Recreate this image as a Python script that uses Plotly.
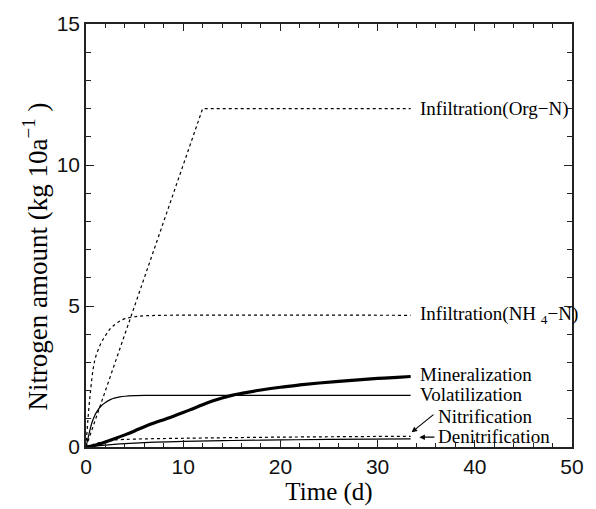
import plotly.graph_objects as go

# ---- data ----
t_org = [0, 12, 33.4]
v_org = [0, 12.0, 12.0]

t_nh4 = [0, 0.25, 0.5, 0.75, 1, 1.5, 2, 2.5, 3, 3.5, 4, 5, 6, 8, 33.4]
v_nh4 = [0, 1.2, 2.1, 2.8, 3.2, 3.65, 3.95, 4.2, 4.35, 4.47, 4.55, 4.62, 4.65, 4.67, 4.67]

t_vol = [0, 0.3, 0.6, 0.9, 1.2, 1.6, 2, 2.5, 3, 3.5, 4, 5, 6, 33.4]
v_vol = [0, 0.45, 0.85, 1.12, 1.3, 1.47, 1.58, 1.68, 1.74, 1.78, 1.8, 1.82, 1.83, 1.83]

t_min = [0, 1, 2, 3, 4, 5, 6, 7, 8, 9, 10, 11, 12, 13, 14, 15, 16, 18, 20, 22, 24, 26, 28, 30, 32, 33.4]
v_min = [0, 0.07, 0.18, 0.3, 0.43, 0.57, 0.72, 0.85, 0.97, 1.09, 1.22, 1.36, 1.5, 1.63, 1.74,
         1.83, 1.9, 2.02, 2.12, 2.2, 2.27, 2.33, 2.38, 2.43, 2.47, 2.5]

t_nit = [0, 0.5, 1, 2, 3, 5, 10, 20, 33.4]
v_nit = [0, 0.06, 0.12, 0.2, 0.25, 0.28, 0.31, 0.35, 0.38]

t_den = [0, 2, 5, 10, 15, 20, 25, 33.4]
v_den = [0, 0.07, 0.14, 0.2, 0.23, 0.25, 0.27, 0.29]

x_ticks = [0, 10, 20, 30, 40, 50]
y_ticks = [0, 5, 10, 15]

SERIF = "Liberation Serif, Times New Roman, serif"
SANS = "Liberation Sans, Arial, sans-serif"

fig = go.Figure()
dot = dict(color="black", width=1.2, dash="3px,3px")
fig.add_trace(go.Scatter(x=t_org, y=v_org, mode="lines", line=dot))
fig.add_trace(go.Scatter(x=t_nh4, y=v_nh4, mode="lines", line=dict(dot, shape="spline")))
fig.add_trace(go.Scatter(x=t_vol, y=v_vol, mode="lines", line=dict(color="black", width=1.2, shape="spline")))
fig.add_trace(go.Scatter(x=t_min, y=v_min, mode="lines", line=dict(color="black", width=3.2, shape="spline")))
fig.add_trace(go.Scatter(x=t_nit, y=v_nit, mode="lines", line=dict(dot, shape="spline")))
fig.add_trace(go.Scatter(x=t_den, y=v_den, mode="lines", line=dict(color="black", width=1.2, shape="spline")))

lab_font = dict(family=SERIF, size=19, color="black")
xl = t_org[-1] + 0.8
labels = [
    (xl, v_org[-1], "Infiltration(Org\u2212N)"),
    (xl, v_nh4[-1], "Infiltration(NH <sub>4</sub>\u2212N)"),
    (xl, v_min[-1] + 0.08, "Mineralization"),
    (xl, v_vol[-1] + 0.03, "Volatilization"),
    (t_nit[-1] + 2.6, 1.08, "Nitrification"),
    (t_den[-1] + 2.6, 0.38, "Denitrification"),
]
for x, y, s in labels:
    fig.add_annotation(x=x, y=y, text=s, showarrow=False, xanchor="left", yanchor="middle",
                       font=lab_font)

# arrows
fig.add_annotation(x=t_nit[-1] + 0.1, y=v_nit[-1] + 0.14, ax=t_nit[-1] + 2.5, ay=1.19,
                   axref="x", ayref="y", text="", showarrow=True, arrowhead=2,
                   arrowsize=1, arrowwidth=1.1, arrowcolor="black")
fig.add_annotation(x=t_den[-1] + 0.9, y=v_den[-1] + 0.06, ax=t_den[-1] + 2.6, ay=v_den[-1] + 0.06,
                   axref="x", ayref="y", text="", showarrow=True, arrowhead=2,
                   arrowsize=1, arrowwidth=1.1, arrowcolor="black")

# y-axis title
fig.add_annotation(xref="paper", yref="paper", x=-0.105, y=0.45, textangle=-90,
                   text="Nitrogen amount (kg 10a<sup>\u22121</sup> )", showarrow=False,
                   xanchor="center", yanchor="middle",
                   font=dict(family=SERIF, size=27, color="black"))

axis_common = dict(
    showgrid=False, zeroline=False, showline=True, linecolor="#222", linewidth=1.5,
    mirror="allticks", ticks="inside", tickcolor="#222", tickwidth=1.2,
    tickfont=dict(family=SANS, size=21, color="#111"),
)
fig.update_xaxes(range=[0, 50], tickvals=x_ticks, ticklen=7,
                 minor=dict(dtick=2, ticklen=4, ticks="inside", tickcolor="#222", tickwidth=1),
                 title=dict(text="Time (d)", font=dict(family=SERIF, size=25, color="black"), standoff=2),
                 **axis_common)
fig.update_yaxes(range=[0, 15], tickvals=y_ticks, ticklen=8,
                 minor=dict(dtick=1, ticklen=5, ticks="inside", tickcolor="#222", tickwidth=1),
                 **axis_common)

fig.update_layout(width=596, height=509, margin=dict(l=86, r=17, t=20, b=58),
                  plot_bgcolor="white", paper_bgcolor="white", showlegend=False)

fig.write_html("out.html")
